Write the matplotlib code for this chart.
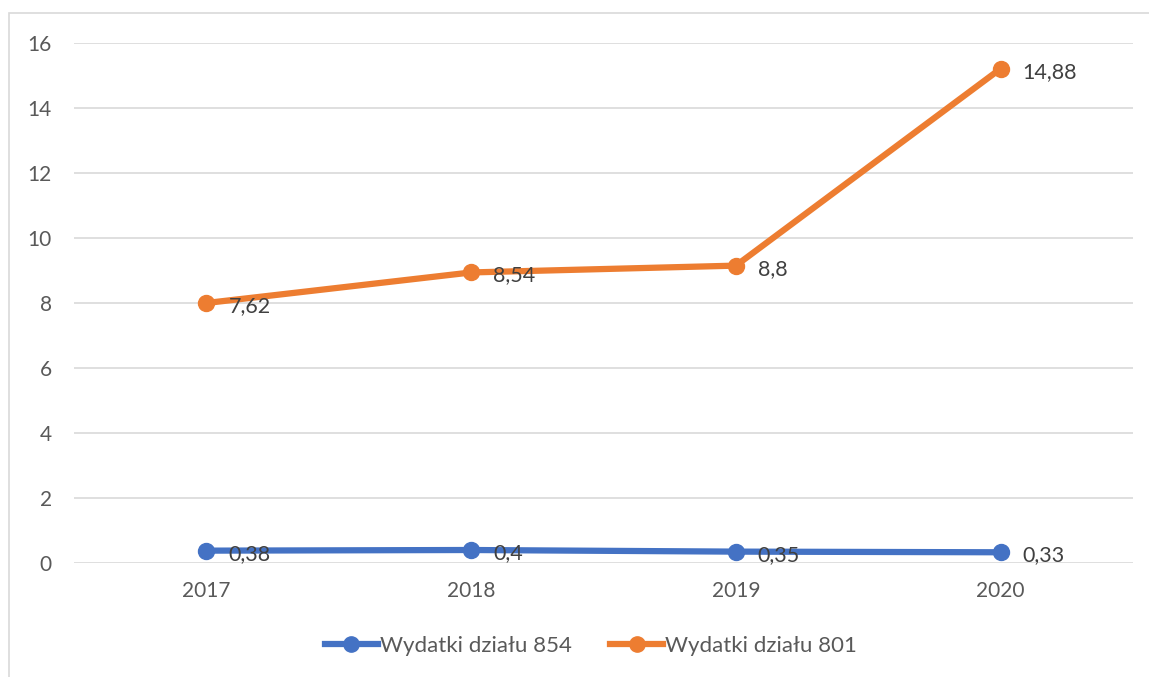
import numpy as np
import matplotlib.pyplot as plt
from matplotlib.lines import Line2D
from matplotlib.patches import Rectangle

plt.rcParams['font.family'] = ['Lato', 'DejaVu Sans']

years = ['2017', '2018', '2019', '2020']
wyd_854 = np.array([0.38, 0.4, 0.35, 0.33])
wyd_801 = np.array([7.62, 8.54, 8.8, 14.88])
series_names = ['Wydatki działu 854', 'Wydatki działu 801']
yticks = [0, 2, 4, 6, 8, 10, 12, 14, 16]

blue = '#4472C4'
orange = '#ED7D31'

fig = plt.figure(figsize=(11.49, 6.77), dpi=100)
ax = fig.add_axes([74 / 1149, 114 / 677, (1133 - 74) / 1149, (563 - 43) / 677])

x = np.arange(len(years))
# stacked line chart: second series drawn on top of the first
top = wyd_854 + wyd_801

ax.plot(x, wyd_854, color=blue, linewidth=4.5, marker='o', markersize=11.5,
        solid_capstyle='round', zorder=3)
ax.plot(x, top, color=orange, linewidth=4.5, marker='o', markersize=11.5,
        solid_capstyle='round', zorder=3)

for xi, yv, v in zip(x, wyd_854, wyd_854):
    ax.annotate('{:g}'.format(v).replace('.', ','), (xi, yv), xytext=(22, -3),
                textcoords='offset pixels', ha='left', va='center',
                fontsize=15.5, color='#404040', zorder=4)
for xi, yv, v in zip(x, top, wyd_801):
    ax.annotate('{:g}'.format(v).replace('.', ','), (xi, yv), xytext=(22, -3),
                textcoords='offset pixels', ha='left', va='center',
                fontsize=15.5, color='#404040', zorder=4)

ax.set_xlim(-0.5, 3.5)
ax.set_ylim(0, 16)
ax.set_xticks(x)
ax.set_xticklabels(years)
ax.set_yticks(yticks)
ax.set_yticklabels([str(t) for t in yticks])
ax.tick_params(axis='both', length=0, labelsize=15, labelcolor='#595959')
ax.tick_params(axis='y', pad=16)
ax.tick_params(axis='x', pad=13)
ax.grid(axis='y', color='#D9D9D9', linewidth=1.2)
ax.set_axisbelow(True)
for s in ax.spines.values():
    s.set_visible(False)

handles = [Line2D([], [], color=blue, linewidth=4.5, marker='o', markersize=11),
           Line2D([], [], color=orange, linewidth=4.5, marker='o', markersize=11)]
fig.legend(handles, series_names, loc='center', bbox_to_anchor=(591 / 1149, 1 - 646 / 677),
           ncol=2, frameon=False, fontsize=16, labelcolor='#595959',
           handlelength=2.4, handletextpad=0.1, columnspacing=1.7)

# chart area border
fig.patches.append(Rectangle((9 / 1149, -0.1), 1.2, 1 - 13 / 677 + 0.1,
                             transform=fig.transFigure, fill=False,
                             edgecolor='#D9D9D9', linewidth=1.2))

fig.savefig('out.png', dpi=100)
